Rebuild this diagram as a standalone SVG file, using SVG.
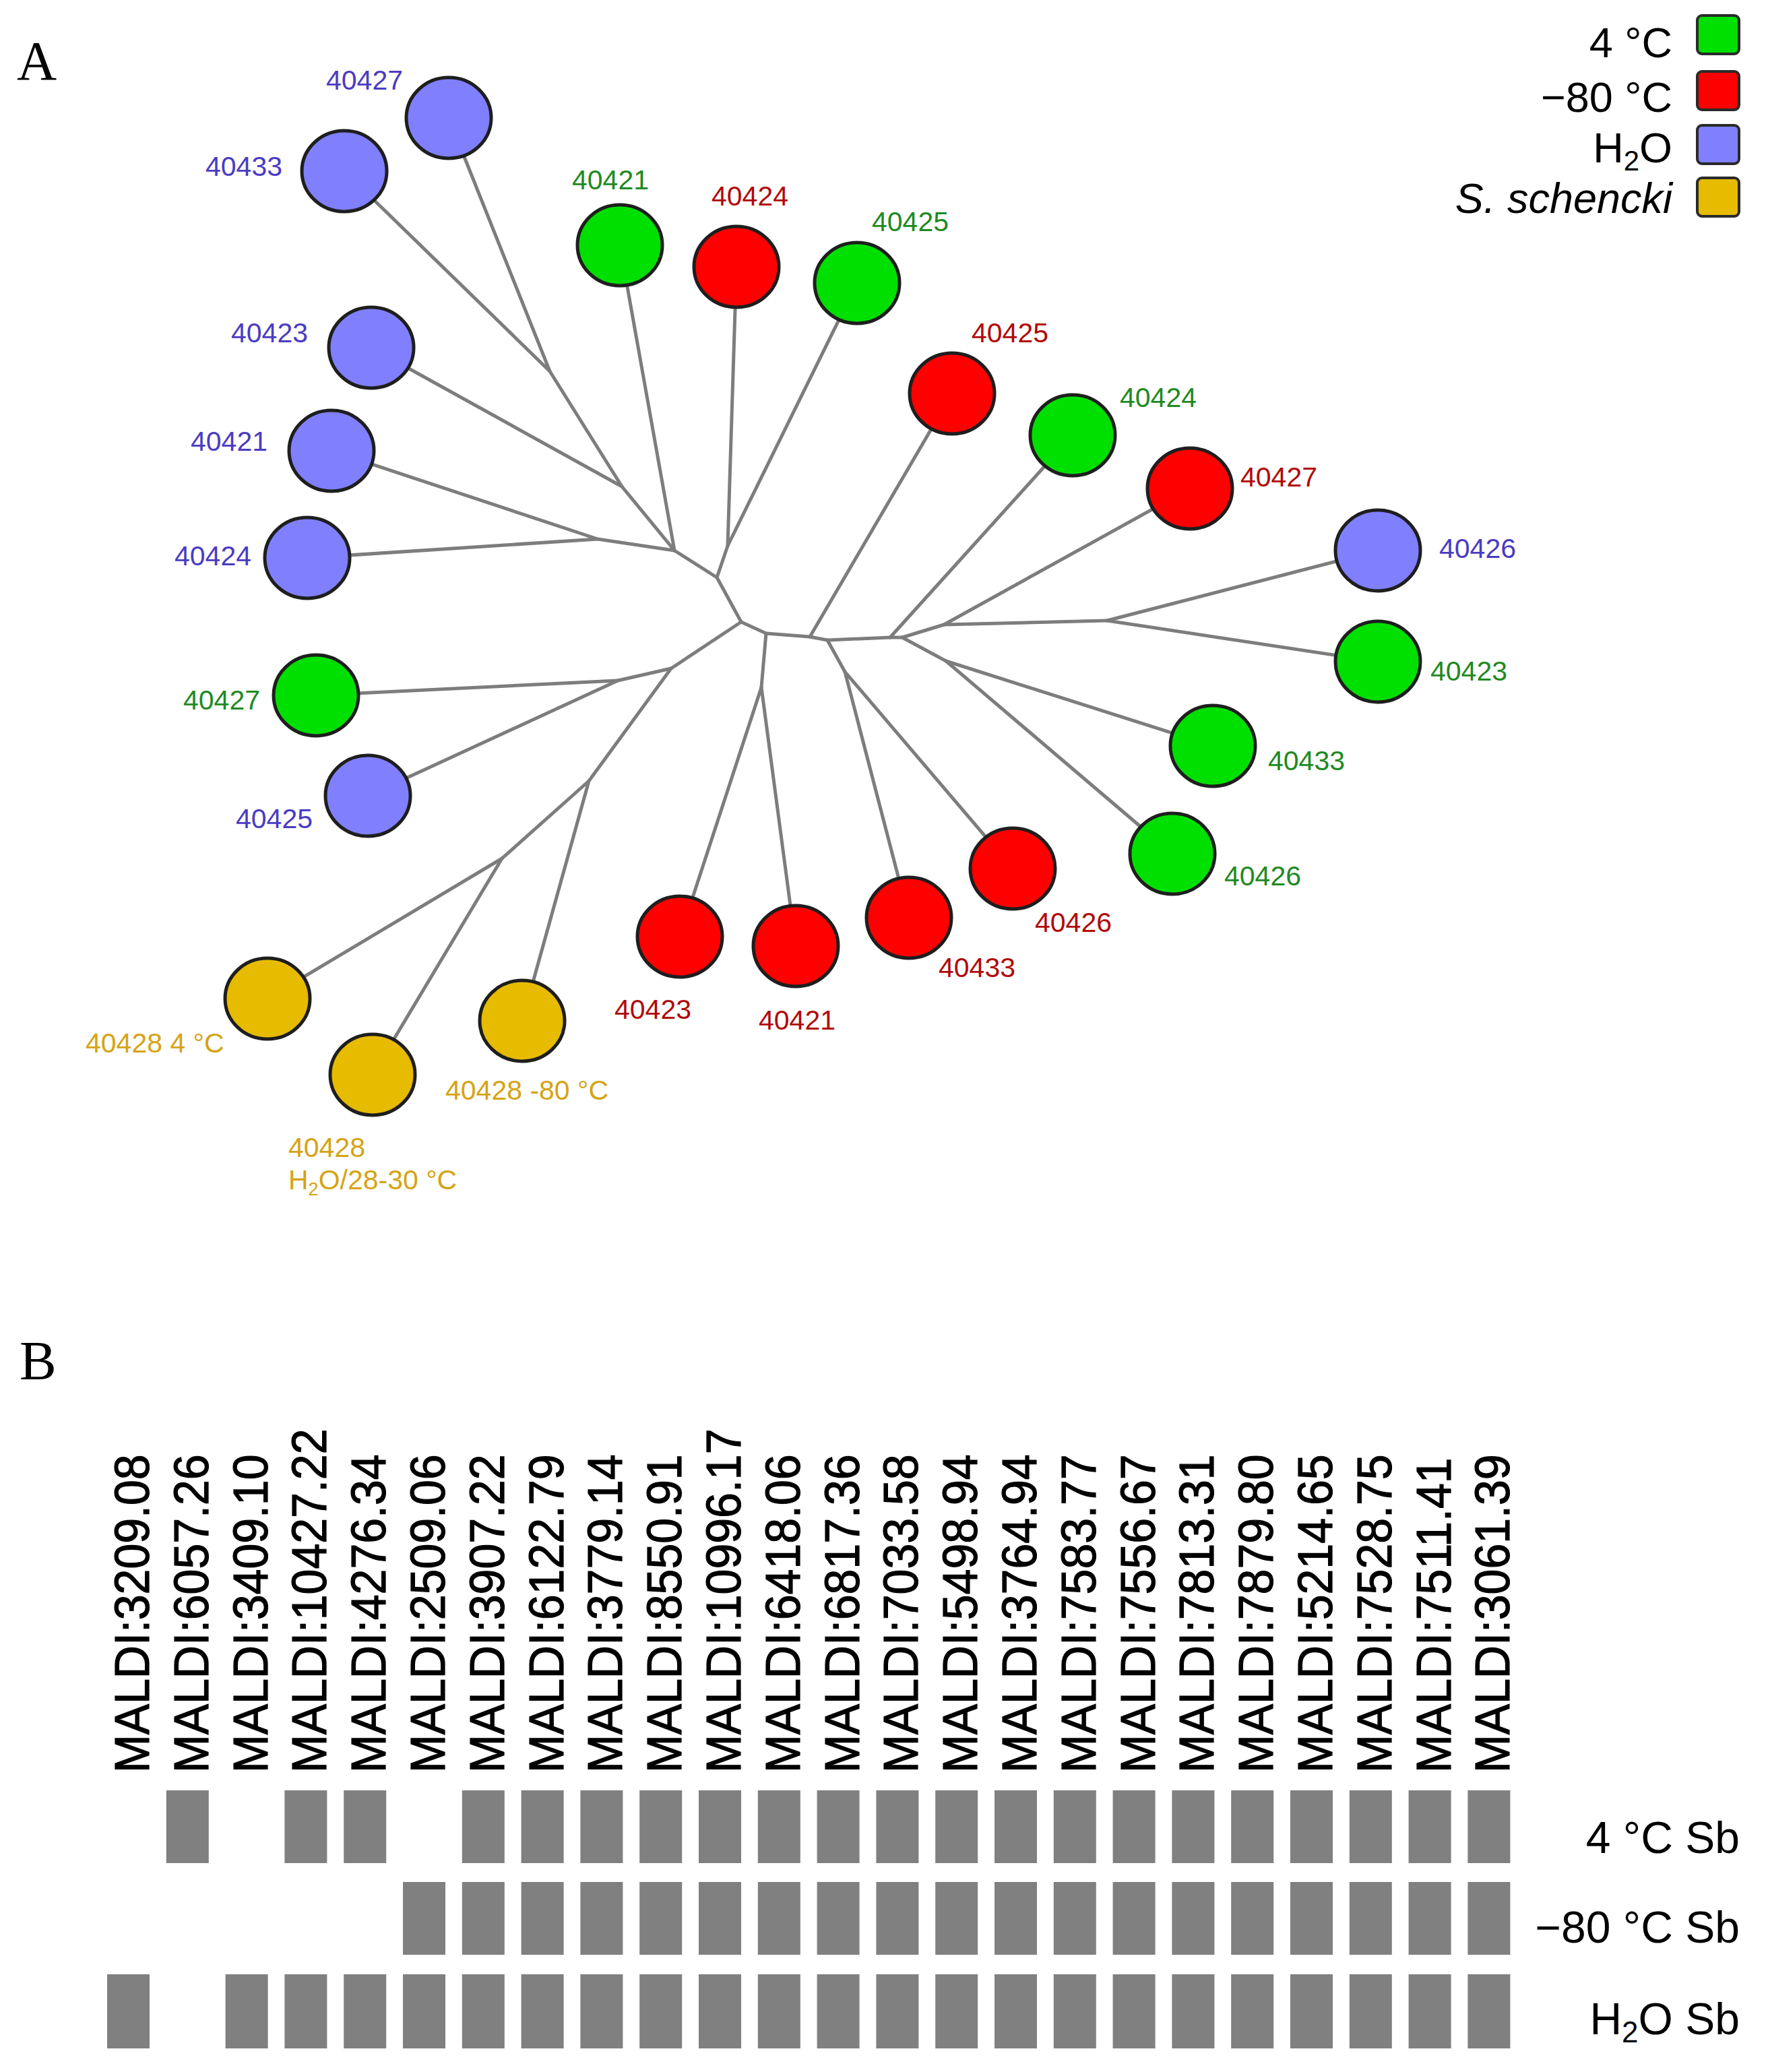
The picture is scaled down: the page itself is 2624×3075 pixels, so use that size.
<svg xmlns="http://www.w3.org/2000/svg" width="2624" height="3075" viewBox="0 0 2624 3075">
<style>
.bg{fill:#ffffff}
.edge{stroke:#7d7d7d;stroke-width:5;fill:none;stroke-linecap:round}
.nd{stroke:#1e1e1e;stroke-width:5}
.cb{fill:#8080ff}.cg{fill:#00e000}.cr{fill:#ff0000}.cy{fill:#e6bb00}
.lb{font-family:"Liberation Sans",Arial,sans-serif;font-size:41px}
.tb{fill:#4a3cc2}.tg{fill:#1f8a22}.tr{fill:#b00a0a}.ty{fill:#d6a314}
.leg{font-family:"Liberation Sans",Arial,sans-serif;font-size:63px;fill:#000;text-anchor:end}
.sq{stroke:#2a2a2a;stroke-width:4}
.panel{font-family:"Liberation Serif","Times New Roman",serif;font-size:82px;fill:#000}
.ml{font-family:"Liberation Sans",Arial,sans-serif;font-size:72px;fill:#000;stroke:#000;stroke-width:1.2}
.bar{fill:#808080}
.row{font-family:"Liberation Sans",Arial,sans-serif;font-size:66px;fill:#000;text-anchor:end}
</style>
<rect class="bg" x="0" y="0" width="2624" height="3075"/>
<text class="panel" x="25" y="118">A</text>
<text class="panel" x="29" y="2047">B</text>

<g id="legend">
  <text class="leg" x="2482" y="85">4 °C</text>
  <rect class="sq cg" x="2519" y="23" width="62" height="57" rx="7"/>
  <text class="leg" x="2482" y="166">−80 °C</text>
  <rect class="sq cr" x="2519" y="106" width="62" height="57" rx="7"/>
  <text class="leg" x="2482" y="241">H<tspan font-size="42" dy="12">2</tspan><tspan dy="-12">O</tspan></text>
  <rect class="sq cb" x="2519" y="186" width="62" height="57" rx="7"/>
  <text class="leg" x="2482" y="316" font-style="italic" font-size="66">S. schencki</text>
  <rect class="sq cy" x="2519" y="264" width="62" height="57" rx="7"/>
</g>

<g id="connectors">
  <line class="edge" x1="666" y1="175" x2="816" y2="551"/>
  <line class="edge" x1="511" y1="254" x2="816" y2="551"/>
  <line class="edge" x1="816" y1="551" x2="923" y2="722"/>
  <line class="edge" x1="551" y1="516" x2="923" y2="722"/>
  <line class="edge" x1="923" y1="722" x2="1001" y2="817"/>
  <line class="edge" x1="492" y1="669" x2="887" y2="800"/>
  <line class="edge" x1="456" y1="828" x2="887" y2="800"/>
  <line class="edge" x1="887" y1="800" x2="1001" y2="817"/>
  <line class="edge" x1="920" y1="364" x2="1001" y2="817"/>
  <line class="edge" x1="1001" y1="817" x2="1064" y2="857"/>
  <line class="edge" x1="1064" y1="857" x2="1080" y2="810"/>
  <line class="edge" x1="1093" y1="396" x2="1080" y2="810"/>
  <line class="edge" x1="1272" y1="420" x2="1080" y2="810"/>
  <line class="edge" x1="1064" y1="857" x2="1100" y2="923"/>
  <line class="edge" x1="1100" y1="923" x2="996" y2="992"/>
  <line class="edge" x1="996" y1="992" x2="917" y2="1010"/>
  <line class="edge" x1="469" y1="1032" x2="917" y2="1010"/>
  <line class="edge" x1="546" y1="1181" x2="917" y2="1010"/>
  <line class="edge" x1="996" y1="992" x2="874" y2="1159"/>
  <line class="edge" x1="874" y1="1159" x2="775" y2="1515"/>
  <line class="edge" x1="874" y1="1159" x2="745" y2="1274"/>
  <line class="edge" x1="745" y1="1274" x2="397" y2="1482"/>
  <line class="edge" x1="745" y1="1274" x2="553" y2="1595"/>
  <line class="edge" x1="1100" y1="923" x2="1137" y2="940"/>
  <line class="edge" x1="1137" y1="940" x2="1130" y2="1020"/>
  <line class="edge" x1="1130" y1="1020" x2="1009" y2="1390"/>
  <line class="edge" x1="1130" y1="1020" x2="1181" y2="1404"/>
  <line class="edge" x1="1137" y1="940" x2="1202" y2="945"/>
  <line class="edge" x1="1202" y1="945" x2="1413" y2="584"/>
  <line class="edge" x1="1202" y1="945" x2="1228" y2="950"/>
  <line class="edge" x1="1228" y1="950" x2="1254" y2="997"/>
  <line class="edge" x1="1254" y1="997" x2="1349" y2="1362"/>
  <line class="edge" x1="1254" y1="997" x2="1503" y2="1289"/>
  <line class="edge" x1="1228" y1="950" x2="1321" y2="946"/>
  <line class="edge" x1="1321" y1="946" x2="1592" y2="646"/>
  <line class="edge" x1="1321" y1="946" x2="1339" y2="946"/>
  <line class="edge" x1="1339" y1="946" x2="1401" y2="927"/>
  <line class="edge" x1="1401" y1="927" x2="1766" y2="725"/>
  <line class="edge" x1="1401" y1="927" x2="1643" y2="921"/>
  <line class="edge" x1="1643" y1="921" x2="2045" y2="817"/>
  <line class="edge" x1="1643" y1="921" x2="2045" y2="982"/>
  <line class="edge" x1="1339" y1="946" x2="1404" y2="981"/>
  <line class="edge" x1="1404" y1="981" x2="1800" y2="1107"/>
  <line class="edge" x1="1404" y1="981" x2="1740" y2="1267"/>
</g>

<g id="n-h2o-40427"><ellipse class="nd cb" cx="666" cy="175" rx="63" ry="60"/><text class="lb tb" x="484" y="133">40427</text></g>
<g id="n-h2o-40433"><ellipse class="nd cb" cx="511" cy="254" rx="63" ry="60"/><text class="lb tb" x="305" y="261">40433</text></g>
<g id="n-h2o-40423"><ellipse class="nd cb" cx="551" cy="516" rx="63" ry="60"/><text class="lb tb" x="343" y="508">40423</text></g>
<g id="n-h2o-40421"><ellipse class="nd cb" cx="492" cy="669" rx="63" ry="60"/><text class="lb tb" x="283" y="669">40421</text></g>
<g id="n-h2o-40424"><ellipse class="nd cb" cx="456" cy="828" rx="63" ry="60"/><text class="lb tb" x="259" y="839">40424</text></g>
<g id="n-h2o-40425"><ellipse class="nd cb" cx="546" cy="1181" rx="63" ry="60"/><text class="lb tb" x="350" y="1229">40425</text></g>
<g id="n-h2o-40426"><ellipse class="nd cb" cx="2045" cy="817" rx="63" ry="60"/><text class="lb tb" x="2136" y="828">40426</text></g>

<g id="n-4c-40421"><ellipse class="nd cg" cx="920" cy="364" rx="63" ry="60"/><text class="lb tg" x="849" y="281">40421</text></g>
<g id="n-4c-40425"><ellipse class="nd cg" cx="1272" cy="420" rx="63" ry="60"/><text class="lb tg" x="1294" y="343">40425</text></g>
<g id="n-4c-40424"><ellipse class="nd cg" cx="1592" cy="646" rx="63" ry="60"/><text class="lb tg" x="1662" y="604">40424</text></g>
<g id="n-4c-40427"><ellipse class="nd cg" cx="469" cy="1032" rx="63" ry="60"/><text class="lb tg" x="272" y="1053">40427</text></g>
<g id="n-4c-40423"><ellipse class="nd cg" cx="2045" cy="982" rx="63" ry="60"/><text class="lb tg" x="2123" y="1010">40423</text></g>
<g id="n-4c-40433"><ellipse class="nd cg" cx="1800" cy="1107" rx="63" ry="60"/><text class="lb tg" x="1882" y="1143">40433</text></g>
<g id="n-4c-40426"><ellipse class="nd cg" cx="1740" cy="1267" rx="63" ry="60"/><text class="lb tg" x="1817" y="1314">40426</text></g>

<g id="n-80c-40424"><ellipse class="nd cr" cx="1093" cy="396" rx="63" ry="60"/><text class="lb tr" x="1056" y="305">40424</text></g>
<g id="n-80c-40425"><ellipse class="nd cr" cx="1413" cy="584" rx="63" ry="60"/><text class="lb tr" x="1442" y="508">40425</text></g>
<g id="n-80c-40427"><ellipse class="nd cr" cx="1766" cy="725" rx="63" ry="60"/><text class="lb tr" x="1841" y="722">40427</text></g>
<g id="n-80c-40426"><ellipse class="nd cr" cx="1503" cy="1289" rx="63" ry="60"/><text class="lb tr" x="1536" y="1383">40426</text></g>
<g id="n-80c-40433"><ellipse class="nd cr" cx="1349" cy="1362" rx="63" ry="60"/><text class="lb tr" x="1393" y="1450">40433</text></g>
<g id="n-80c-40421"><ellipse class="nd cr" cx="1181" cy="1404" rx="63" ry="60"/><text class="lb tr" x="1126" y="1528">40421</text></g>
<g id="n-80c-40423"><ellipse class="nd cr" cx="1009" cy="1390" rx="63" ry="60"/><text class="lb tr" x="912" y="1512">40423</text></g>

<g id="n-ss-4c"><ellipse class="nd cy" cx="397" cy="1482" rx="63" ry="60"/><text class="lb ty" x="127" y="1562">40428 4 °C</text></g>
<g id="n-ss-h2o"><ellipse class="nd cy" cx="553" cy="1595" rx="63" ry="60"/><text class="lb ty" x="428" y="1717">40428</text><text class="lb ty" x="428" y="1765">H<tspan font-size="27" dy="9">2</tspan><tspan dy="-9">O/28-30 °C</tspan></text></g>
<g id="n-ss-80c"><ellipse class="nd cy" cx="775" cy="1515" rx="63" ry="60"/><text class="lb ty" x="661" y="1632">40428 -80 °C</text></g>

<g id="panel-b-labels">
  <text class="ml" transform="translate(221,2631) rotate(-90) scale(0.945,1)">MALDI:3209.08</text>
  <text class="ml" transform="translate(308.8,2631) rotate(-90) scale(0.945,1)">MALDI:6057.26</text>
  <text class="ml" transform="translate(396.6,2631) rotate(-90) scale(0.945,1)">MALDI:3409.10</text>
  <text class="ml" transform="translate(484.4,2631) rotate(-90) scale(0.945,1)">MALDI:10427.22</text>
  <text class="ml" transform="translate(572.2,2631) rotate(-90) scale(0.945,1)">MALDI:4276.34</text>
  <text class="ml" transform="translate(660,2631) rotate(-90) scale(0.945,1)">MALDI:2509.06</text>
  <text class="ml" transform="translate(747.8,2631) rotate(-90) scale(0.945,1)">MALDI:3907.22</text>
  <text class="ml" transform="translate(835.6,2631) rotate(-90) scale(0.945,1)">MALDI:6122.79</text>
  <text class="ml" transform="translate(923.4,2631) rotate(-90) scale(0.945,1)">MALDI:3779.14</text>
  <text class="ml" transform="translate(1011.2,2631) rotate(-90) scale(0.945,1)">MALDI:8550.91</text>
  <text class="ml" transform="translate(1099,2631) rotate(-90) scale(0.945,1)">MALDI:10996.17</text>
  <text class="ml" transform="translate(1186.8,2631) rotate(-90) scale(0.945,1)">MALDI:6418.06</text>
  <text class="ml" transform="translate(1274.6,2631) rotate(-90) scale(0.945,1)">MALDI:6817.36</text>
  <text class="ml" transform="translate(1362.4,2631) rotate(-90) scale(0.945,1)">MALDI:7033.58</text>
  <text class="ml" transform="translate(1450.2,2631) rotate(-90) scale(0.945,1)">MALDI:5498.94</text>
  <text class="ml" transform="translate(1538,2631) rotate(-90) scale(0.945,1)">MALDI:3764.94</text>
  <text class="ml" transform="translate(1625.8,2631) rotate(-90) scale(0.945,1)">MALDI:7583.77</text>
  <text class="ml" transform="translate(1713.6,2631) rotate(-90) scale(0.945,1)">MALDI:7556.67</text>
  <text class="ml" transform="translate(1801.4,2631) rotate(-90) scale(0.945,1)">MALDI:7813.31</text>
  <text class="ml" transform="translate(1889.2,2631) rotate(-90) scale(0.945,1)">MALDI:7879.80</text>
  <text class="ml" transform="translate(1977,2631) rotate(-90) scale(0.945,1)">MALDI:5214.65</text>
  <text class="ml" transform="translate(2064.8,2631) rotate(-90) scale(0.945,1)">MALDI:7528.75</text>
  <text class="ml" transform="translate(2152.6,2631) rotate(-90) scale(0.945,1)">MALDI:7511.41</text>
  <text class="ml" transform="translate(2240.4,2631) rotate(-90) scale(0.945,1)">MALDI:3061.39</text>
</g>

<g id="row-4c">
  <rect class="bar" x="246.8" y="2657" width="63" height="108"/>
  <rect class="bar" x="422.4" y="2657" width="63" height="108"/>
  <rect class="bar" x="510.2" y="2657" width="63" height="108"/>
  <rect class="bar" x="685.8" y="2657" width="63" height="108"/>
  <rect class="bar" x="773.6" y="2657" width="63" height="108"/>
  <rect class="bar" x="861.4" y="2657" width="63" height="108"/>
  <rect class="bar" x="949.2" y="2657" width="63" height="108"/>
  <rect class="bar" x="1037" y="2657" width="63" height="108"/>
  <rect class="bar" x="1124.8" y="2657" width="63" height="108"/>
  <rect class="bar" x="1212.6" y="2657" width="63" height="108"/>
  <rect class="bar" x="1300.4" y="2657" width="63" height="108"/>
  <rect class="bar" x="1388.2" y="2657" width="63" height="108"/>
  <rect class="bar" x="1476" y="2657" width="63" height="108"/>
  <rect class="bar" x="1563.8" y="2657" width="63" height="108"/>
  <rect class="bar" x="1651.6" y="2657" width="63" height="108"/>
  <rect class="bar" x="1739.4" y="2657" width="63" height="108"/>
  <rect class="bar" x="1827.2" y="2657" width="63" height="108"/>
  <rect class="bar" x="1915" y="2657" width="63" height="108"/>
  <rect class="bar" x="2002.8" y="2657" width="63" height="108"/>
  <rect class="bar" x="2090.6" y="2657" width="63" height="108"/>
  <rect class="bar" x="2178.4" y="2657" width="63" height="108"/>
  <text class="row" x="2582" y="2750">4 °C Sb</text>
</g>
<g id="row-80c">
  <rect class="bar" x="598" y="2793" width="63" height="108"/>
  <rect class="bar" x="685.8" y="2793" width="63" height="108"/>
  <rect class="bar" x="773.6" y="2793" width="63" height="108"/>
  <rect class="bar" x="861.4" y="2793" width="63" height="108"/>
  <rect class="bar" x="949.2" y="2793" width="63" height="108"/>
  <rect class="bar" x="1037" y="2793" width="63" height="108"/>
  <rect class="bar" x="1124.8" y="2793" width="63" height="108"/>
  <rect class="bar" x="1212.6" y="2793" width="63" height="108"/>
  <rect class="bar" x="1300.4" y="2793" width="63" height="108"/>
  <rect class="bar" x="1388.2" y="2793" width="63" height="108"/>
  <rect class="bar" x="1476" y="2793" width="63" height="108"/>
  <rect class="bar" x="1563.8" y="2793" width="63" height="108"/>
  <rect class="bar" x="1651.6" y="2793" width="63" height="108"/>
  <rect class="bar" x="1739.4" y="2793" width="63" height="108"/>
  <rect class="bar" x="1827.2" y="2793" width="63" height="108"/>
  <rect class="bar" x="1915" y="2793" width="63" height="108"/>
  <rect class="bar" x="2002.8" y="2793" width="63" height="108"/>
  <rect class="bar" x="2090.6" y="2793" width="63" height="108"/>
  <rect class="bar" x="2178.4" y="2793" width="63" height="108"/>
  <text class="row" x="2582" y="2883">−80 °C Sb</text>
</g>
<g id="row-h2o">
  <rect class="bar" x="159" y="2930" width="63" height="110"/>
  <rect class="bar" x="334.6" y="2930" width="63" height="110"/>
  <rect class="bar" x="422.4" y="2930" width="63" height="110"/>
  <rect class="bar" x="510.2" y="2930" width="63" height="110"/>
  <rect class="bar" x="598" y="2930" width="63" height="110"/>
  <rect class="bar" x="685.8" y="2930" width="63" height="110"/>
  <rect class="bar" x="773.6" y="2930" width="63" height="110"/>
  <rect class="bar" x="861.4" y="2930" width="63" height="110"/>
  <rect class="bar" x="949.2" y="2930" width="63" height="110"/>
  <rect class="bar" x="1037" y="2930" width="63" height="110"/>
  <rect class="bar" x="1124.8" y="2930" width="63" height="110"/>
  <rect class="bar" x="1212.6" y="2930" width="63" height="110"/>
  <rect class="bar" x="1300.4" y="2930" width="63" height="110"/>
  <rect class="bar" x="1388.2" y="2930" width="63" height="110"/>
  <rect class="bar" x="1476" y="2930" width="63" height="110"/>
  <rect class="bar" x="1563.8" y="2930" width="63" height="110"/>
  <rect class="bar" x="1651.6" y="2930" width="63" height="110"/>
  <rect class="bar" x="1739.4" y="2930" width="63" height="110"/>
  <rect class="bar" x="1827.2" y="2930" width="63" height="110"/>
  <rect class="bar" x="1915" y="2930" width="63" height="110"/>
  <rect class="bar" x="2002.8" y="2930" width="63" height="110"/>
  <rect class="bar" x="2090.6" y="2930" width="63" height="110"/>
  <rect class="bar" x="2178.4" y="2930" width="63" height="110"/>
  <text class="row" x="2582" y="3019">H<tspan font-size="44" dy="12">2</tspan><tspan dy="-12">O Sb</tspan></text>
</g>
</svg>
